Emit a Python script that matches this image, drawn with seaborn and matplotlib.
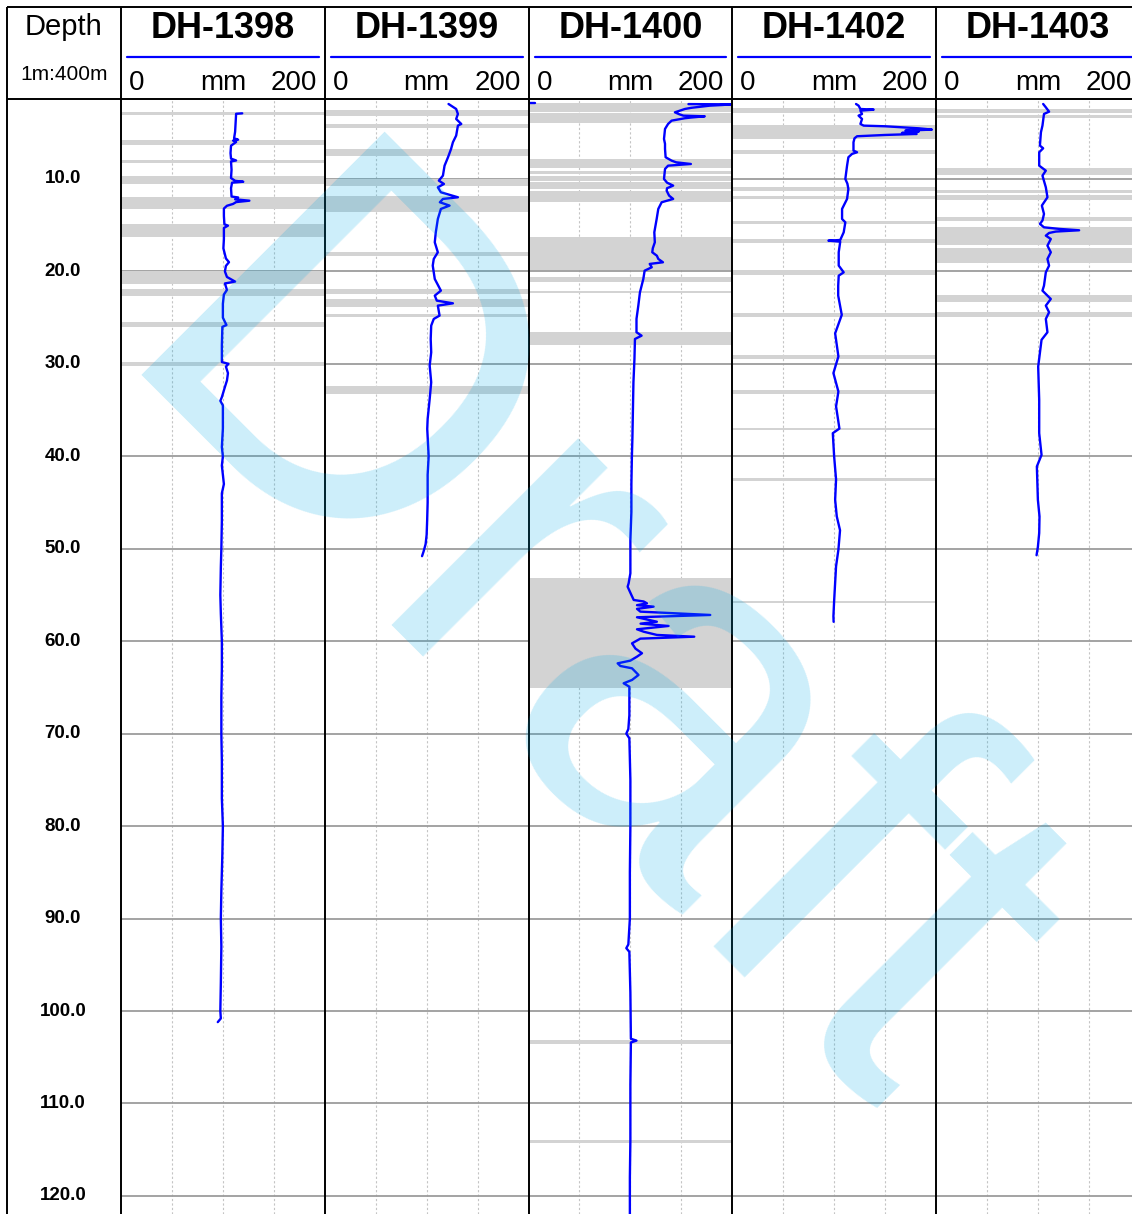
import matplotlib
matplotlib.use("Agg")
import matplotlib.pyplot as plt
import seaborn as sns
import pandas as pd
from matplotlib.lines import Line2D

sns.set_style("white")
plt.rcParams['font.family'] = ['Liberation Sans', 'DejaVu Sans']
plt.rcParams['text.color'] = 'black'

# ---------------------------------------------------------------- data
hole_names = ["DH-1398", "DH-1399", "DH-1400", "DH-1402", "DH-1403"]
depth_ticks = [10, 20, 30, 40, 50, 60, 70, 80, 90, 100, 110, 120]
scale_label = "1m:400m"
unit_label = "mm"
x_min, x_max = 0, 200

dh1398_depth = [2.9, 2.95, 4.9, 5.6, 5.75, 5.85, 6.0, 6.4, 7.2, 7.8, 8.0, 8.1, 9.0, 9.9, 10.2,
                10.3, 10.4, 11.0, 11.9, 12.0, 12.2, 12.35, 12.5, 12.7, 12.9, 13.2, 14.0, 14.9,
                15.05, 15.3, 16.5, 17.5, 18.6, 19.0, 19.4, 20.0, 20.6, 21.1, 21.3, 22.0, 22.5,
                23.5, 25.0, 25.8, 26.0, 28.0, 29.8, 30.0, 30.3, 31.0, 31.8, 32.5, 33.6, 34.0,
                34.5, 35.5, 37.0, 39.0, 40.0, 41.0, 43.0, 44.0, 47.0, 50.0, 52.0, 55.0, 57.0,
                60.0, 63.0, 66.0, 70.0, 73.0, 77.0, 80.0, 83.0, 87.0, 90.0, 93.0, 97.0, 100.0,
                100.8, 101.2]
dh1398_mm = [119, 113, 112, 111, 115, 110, 113, 108, 107.5, 108, 113, 108, 108.5, 108, 112,
             120, 109, 108, 108.5, 115, 112, 126, 113, 110, 104, 101, 101, 101.5,
             105, 101, 101, 100.5, 103, 106, 103, 102, 104, 112, 102, 104, 101,
             100, 100, 103.5, 99.5, 99, 99, 105.5, 103, 105, 104, 102, 99, 97.5,
             100, 100, 100, 99, 100, 99, 101, 99, 99, 98.5, 98, 97.5, 98,
             99, 99, 98.5, 98.5, 99, 99, 100, 99.5, 98.5, 98, 98.5, 98, 97.5,
             98, 95]

dh1399_depth = [1.89, 2.43, 2.97, 3.51, 4.05, 4.23, 5.31, 6.03, 6.75, 7.65, 8.56, 9.64, 10.18,
                10.54, 10.9, 11.44, 11.98, 12.16, 12.52, 12.88, 13.24, 14.33, 15.77, 16.85,
                17.93, 18.65, 19.37, 20.82, 22.08, 22.62, 23.16, 23.45, 23.7, 24.78, 25.14,
                25.86, 27.31, 28.75, 30.19, 31.99, 33.8, 35.96, 37.04, 40.0, 42.0, 45.0, 47.0,
                48.5, 49.5, 50.3, 50.8]
dh1399_mm = [121.5, 129, 130.7, 129, 134, 130.7, 129, 125.8, 124, 121, 117.6, 116, 112,
             117, 111, 114, 130.7, 116, 113, 122.5, 114, 111, 109, 108,
             111, 107, 106, 108, 114, 108, 110, 125.8, 111, 112.7, 107,
             104.5, 104, 104.5, 103, 104.5, 103, 101, 100.6, 102, 101, 101, 100.5,
             100, 99, 97, 95.5]

dh1400_depth = [1.9, 1.93, 2.0, 2.07, 2.3, 2.43, 2.79, 3.0, 3.15, 3.22, 3.35, 3.43, 3.69, 4.05,
                4.59, 5.67, 6.2, 6.75, 7.65, 8.02, 8.2, 8.38, 8.56, 8.92, 10.0, 10.4, 10.72,
                11.0, 11.27, 11.8, 12.16, 12.52, 13.24, 14.33, 15.77, 16.85, 17.5, 17.93, 18.3,
                18.65, 19.01, 19.19, 19.55, 19.92, 20.82, 22.26, 23.7, 25.14, 26.58, 26.95,
                27.31, 29.47, 32.0, 35.0, 38.0, 40.0, 43.0, 46.0, 49.05, 52.65, 53.73, 54.1,
                55.0, 55.54, 55.7, 55.9, 56.1, 56.26, 56.5, 56.8, 57.16, 57.41, 57.89, 58.1,
                58.35, 58.71, 58.97, 59.32, 59.51, 59.72, 60.23, 60.8, 61.3, 61.67, 62.1,
                62.39, 62.68, 62.93, 63.65, 64.19, 64.55, 64.92, 66.36, 68.0, 69.5, 70.0,
                70.5, 75.0, 80.0, 85.0, 90.0, 92.8, 93.2, 93.6, 98.0, 103.0, 103.2, 103.4,
                108.0, 114.0, 118.0, 122.0]
dh1400_mm = [157, 199, 190, 178, 160, 153.5, 143.7, 148, 152, 173, 160, 153.5, 140.5, 137,
             134, 133, 134, 134, 134.6, 140.5, 145, 159.4, 137, 134, 133, 136, 142,
             136, 135.6, 138, 142, 130.7, 127.4, 125.8, 123.5, 124, 122, 121.5, 126,
             127.4, 132, 119, 121, 114, 112.7, 109.4, 107.8, 106, 106, 111,
             104.5, 104, 103, 102.5, 102, 101.5, 101, 101, 100, 100, 98.3, 97.3,
             101, 103.3, 113, 116.3, 106.5, 122.8, 106.5, 109.8, 178.4, 106.5, 126, 110,
             137.5, 106.5, 113, 126, 162.7, 109.8, 101.6, 105, 111.4, 106.5, 100,
             87.5, 90.2, 101.6, 108, 101.6, 93.4, 99, 99, 99, 98, 96,
             99, 100, 100, 99.5, 99.5, 98, 96, 99, 100, 100.5, 106, 100.5,
             100, 100, 99.5, 99.5]
# short isolated reading at the collar
dh1400_collar_depth = [1.8, 1.8]
dh1400_collar_mm = [0, 6]

dh1402_depth = [1.89, 2.07, 2.43, 2.5, 2.61, 2.97, 3.15, 3.51, 4.05, 4.23, 4.3, 4.52, 4.66, 4.77,
                4.88, 5.02, 5.13, 5.24, 5.38, 5.6, 6.03, 6.93, 7.11, 7.29, 7.65, 8.56, 10.0,
                10.5, 11.08, 12.16, 13.24, 14.33, 14.69, 15.77, 16.6, 16.67, 16.78, 17.93,
                19.37, 20.1, 20.46, 21.54, 22.62, 24.7, 26.7, 29.2, 31.0, 33.0, 34.6, 37.0,
                37.5, 40.0, 42.5, 44.7, 46.5, 48.0, 50.1, 51.9, 55.65, 57.3, 57.9]
dh1402_mm = [121.5, 124, 125.8, 138.8, 125.8, 127.4, 124, 127.4, 125.8, 129, 150, 183, 196, 170,
             183, 166.6, 181, 150, 122.5, 120, 119, 119, 122.5, 117.6, 114, 112.7, 111,
             113, 114, 112.7, 107.8, 107.8, 111, 109.4, 106, 94.4, 106, 104.5,
             104.5, 109.4, 104.5, 104, 104, 107.5, 101, 104.2, 99.3, 104.2, 101.9, 105.2,
             98.7, 100, 101.9, 101, 102.6, 105.8, 104.2, 101.9, 100, 99.3, 99.5]

dh1403_depth = [1.89, 2.25, 2.72, 2.97, 4.23, 4.95, 6.39, 6.68, 7.11, 8.56, 9.1, 9.64, 10.9,
                11.98, 12.88, 13.78, 14.5, 14.86, 15.23, 15.4, 15.55, 15.69, 15.84, 16.13,
                16.49, 17.21, 17.93, 18.65, 19.37, 20.1, 21.54, 22.08, 22.98, 23.7, 24.42,
                25.14, 26.58, 27.4, 30.3, 33.9, 37.5, 39.85, 41.1, 44.7, 46.5, 48.3, 49.8, 50.7]
dh1403_mm = [105.2, 107.8, 111, 106, 104.5, 103, 102, 105.2, 101.3, 101.3, 107.8, 104.5, 107.8,
             109.4, 103.9, 106, 104.5, 102, 106, 120.9, 140.5, 117.6, 111, 107.8,
             112.7, 109.4, 112.7, 109.4, 111, 107.8, 106, 104.5, 112.7, 107.8, 111,
             107.8, 109.4, 103.6, 100.3, 101.3, 101.3, 103.6, 99, 100, 101.6, 101.3, 100, 98.7]

# logged intervals (top, base) in metres, shaded in grey
dh1398_bands = [(2.75, 3.1), (5.75, 6.3), (7.95, 8.27), (9.7, 10.5), (11.95, 13.25),
                (14.9, 16.3), (20.0, 21.4), (21.9, 22.65), (25.5, 26.0), (29.8, 30.2)]
dh1399_bands = [(2.5, 3.15), (4.05, 4.5), (6.75, 7.55), (10.0, 10.8), (11.8, 13.6),
                (17.9, 18.35), (21.9, 22.45), (23.0, 23.9), (24.6, 24.95), (32.35, 33.25)]
dh1400_bands = [(1.78, 2.71), (2.86, 3.94), (7.85, 8.85), (9.1, 9.46), (9.7, 10.2),
                (10.35, 11.1), (11.25, 12.5), (16.3, 19.8), (20.6, 21.1), (22.1, 22.35),
                (26.5, 28.0), (53.2, 65.1), (103.1, 103.6), (114.0, 114.3)]
dh1402_bands = [(2.35, 2.86), (4.16, 5.67), (6.83, 7.3), (10.9, 11.27), (11.87, 12.16),
                (14.5, 14.9), (16.5, 16.96), (19.84, 20.38), (24.5, 24.96), (29.0, 29.5),
                (32.8, 33.25), (36.9, 37.2), (42.3, 42.63), (55.65, 55.9)]
dh1403_bands = [(2.43, 2.86), (3.08, 3.43), (8.84, 9.57), (11.2, 11.55), (11.73, 12.24),
                (14.15, 14.6), (15.2, 17.15), (17.45, 19.05), (22.55, 23.3), (24.4, 24.96)]

holes = [
    (dh1398_depth, dh1398_mm, dh1398_bands),
    (dh1399_depth, dh1399_mm, dh1399_bands),
    (dh1400_depth, dh1400_mm, dh1400_bands),
    (dh1402_depth, dh1402_mm, dh1402_bands),
    (dh1403_depth, dh1403_mm, dh1403_bands),
]

# ---------------------------------------------------------------- layout (pixels)
W, H = 1132, 1214
FRAME_L, FRAME_T = 7, 7
HEAD_B = 99
DEPTH_R = 121
TRACK_W = 203.75
DEPTH_TOP = 1.35
PX_PER_M = 9.245
DEPTH_BOT = DEPTH_TOP + (H - HEAD_B) / PX_PER_M

fig = plt.figure(figsize=(W / 100, H / 100), dpi=100)


def rect(x0, y0, x1, y1):
    return [x0 / W, 1 - y1 / H, (x1 - x0) / W, (y1 - y0) / H]


def style_track(ax):
    ax.set_xlim(x_min, x_max)
    ax.set_ylim(DEPTH_BOT, DEPTH_TOP)
    for s in ax.spines.values():
        s.set_visible(False)
    ax.tick_params(length=0, labelleft=False, labelbottom=False)
    ax.set_xlabel("")
    ax.set_ylabel("")


# depth column
ax_d = fig.add_axes(rect(FRAME_L, HEAD_B, DEPTH_R, H))
ax_d.set_xlim(0, 1)
ax_d.set_ylim(DEPTH_BOT, DEPTH_TOP)
ax_d.axis("off")
for d in depth_ticks:
    ax_d.text(0.49, d, f"{d:.1f}", ha="center", va="center", fontsize=13.5,
              fontweight="bold", color="black")

ax_dh = fig.add_axes(rect(FRAME_L, FRAME_T, DEPTH_R, HEAD_B))
ax_dh.set_xlim(0, DEPTH_R - FRAME_L)
ax_dh.set_ylim(HEAD_B - FRAME_T, 0)
ax_dh.axis("off")
ax_dh.text(56.5, 20, "Depth", ha="center", va="center", fontsize=21)
ax_dh.text(57, 67, scale_label, ha="center", va="center", fontsize=15)

# hole tracks
for i, (name, (depths, vals, bands)) in enumerate(zip(hole_names, holes)):
    x0 = DEPTH_R + i * TRACK_W
    ax = fig.add_axes(rect(x0, HEAD_B, x0 + TRACK_W, H))
    for top, base in bands:
        ax.axhspan(top, base, color="#d3d3d3", lw=0, zorder=0.8)
    ax.set_yticks(depth_ticks)
    ax.set_xticks([50, 100, 150])
    ax.grid(axis="y", color="#9c9c9c", lw=1.3, zorder=1.5)
    ax.grid(axis="x", color="#c4c4c4", lw=0.8, ls=(0, (2, 2)), zorder=1.5)
    df = pd.DataFrame({"depth": depths, "mm": vals})
    sns.lineplot(data=df, x="mm", y="depth", orient="y", sort=False, estimator=None,
                 color="#0000ff", lw=1.7, ax=ax, zorder=3)
    if name == "DH-1400":
        sns.lineplot(x=dh1400_collar_mm, y=dh1400_collar_depth, orient="y", sort=False,
                     estimator=None, color="#0000ff", lw=1.7, ax=ax, zorder=3)
    style_track(ax)

    hx = fig.add_axes(rect(x0, FRAME_T, x0 + TRACK_W, HEAD_B))
    hx.set_xlim(0, TRACK_W)
    hx.set_ylim(HEAD_B - FRAME_T, 0)
    hx.axis("off")
    hx.text(TRACK_W / 2, 21.5, name, ha="center", va="center", fontsize=26,
            fontweight="bold", color="black")
    hx.add_line(Line2D([6, TRACK_W - 6], [50, 50], color="#0000ff", lw=1.6))
    hx.text(8, 75.5, str(x_min), ha="left", va="center", fontsize=20, color="black")
    hx.text(TRACK_W / 2, 75.5, unit_label, ha="center", va="center", fontsize=20,
            color="black")
    hx.text(TRACK_W - 8, 75.5, str(x_max), ha="right", va="center", fontsize=20,
            color="black")

# frame lines
ov = fig.add_axes([0, 0, 1, 1])
ov.set_xlim(0, W)
ov.set_ylim(H, 0)
ov.axis("off")
ov.patch.set_alpha(0)
frame_kw = dict(color="black", lw=1.4, solid_capstyle="butt")
ov.add_line(Line2D([FRAME_L, W], [FRAME_T, FRAME_T], **frame_kw))
ov.add_line(Line2D([FRAME_L, W], [HEAD_B, HEAD_B], **frame_kw))
ov.add_line(Line2D([FRAME_L, FRAME_L], [FRAME_T, H], **frame_kw))
for i in range(5):
    xs = DEPTH_R + i * TRACK_W
    ov.add_line(Line2D([xs, xs], [FRAME_T, H], **frame_kw))

# watermark
fig.text(574 / W, 1 - 666 / H, "Draft", rotation=-45, rotation_mode="anchor",
         ha="center", va="center", fontsize=360, color="#00aae6", alpha=0.2, zorder=10)

fig.savefig("out.png", dpi=100)
